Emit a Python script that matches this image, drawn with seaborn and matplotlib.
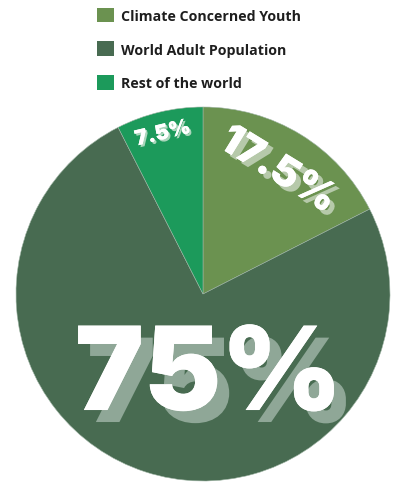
import matplotlib
matplotlib.use("Agg")
import matplotlib.pyplot as plt
import matplotlib.patheffects as pe
from matplotlib.patches import Patch
import seaborn as sns

labels = ["Climate Concerned Youth", "World Adult Population", "Rest of the world"]
values = [17.5, 75, 7.5]
value_text = ["17.5%", "75%", "7.5%"]
colors = ["#6b9250", "#486b51", "#1c9a5b"]

sns.set_theme(style="white")
plt.rcParams['font.family'] = ['Inter', 'DejaVu Sans']

W, H = 400, 485
fig = plt.figure(figsize=(W / 100, H / 100), dpi=100)
cx, cy, R = 203, 295, 187
ax = fig.add_axes([(cx - R) / W, (H - cy - R) / H, 2 * R / W, 2 * R / H])
wedges, _ = ax.pie(values, colors=colors, startangle=90, counterclock=False,
                   radius=1, wedgeprops=dict(edgecolor="#9fb5a5", linewidth=0.4))
ax.set_xlim(-1, 1)
ax.set_ylim(-1, 1)
ax.set_aspect("equal")
ax.axis("off")

# label placements: (x, y, size px, rotation, shadow offset px, shadow color)
specs = [
    (0.40, 0.66, 41, -31.5, 5, "#b6c9aa"),
    (0.03, -0.46, 116, 0, 12, "#8fa797"),
    (-0.215, 0.86, 21, 13.5, 2, "#a9d6bb"),
]
for txt, (x, y, s, rot, off, sc) in zip(value_text, specs):
    fs = s * 72 / 100
    o = off * 0.72
    ax.text(x, y, txt, ha="center", va="center", fontsize=fs,
            fontweight=900, color="white", rotation=rot, rotation_mode="anchor",
            path_effects=[pe.withSimplePatchShadow(offset=(o, -o), shadow_rgbFace=sc, alpha=1.0, rho=1.0),
                          pe.Normal()])

handles = [Patch(facecolor=c, edgecolor="none") for c in colors]
leg = fig.legend(handles, labels, loc="upper left", bbox_to_anchor=(84 / W, 1 + 4 / H),
                 frameon=False, prop=dict(family=["Open Sans", "DejaVu Sans"], weight="bold", size=10.2),
                 handlelength=1.2, handleheight=1.2, labelspacing=1.32, handletextpad=0.5)
for t in leg.get_texts():
    t.set_color("#1e1e1e")

fig.savefig("out.png", dpi=100)
